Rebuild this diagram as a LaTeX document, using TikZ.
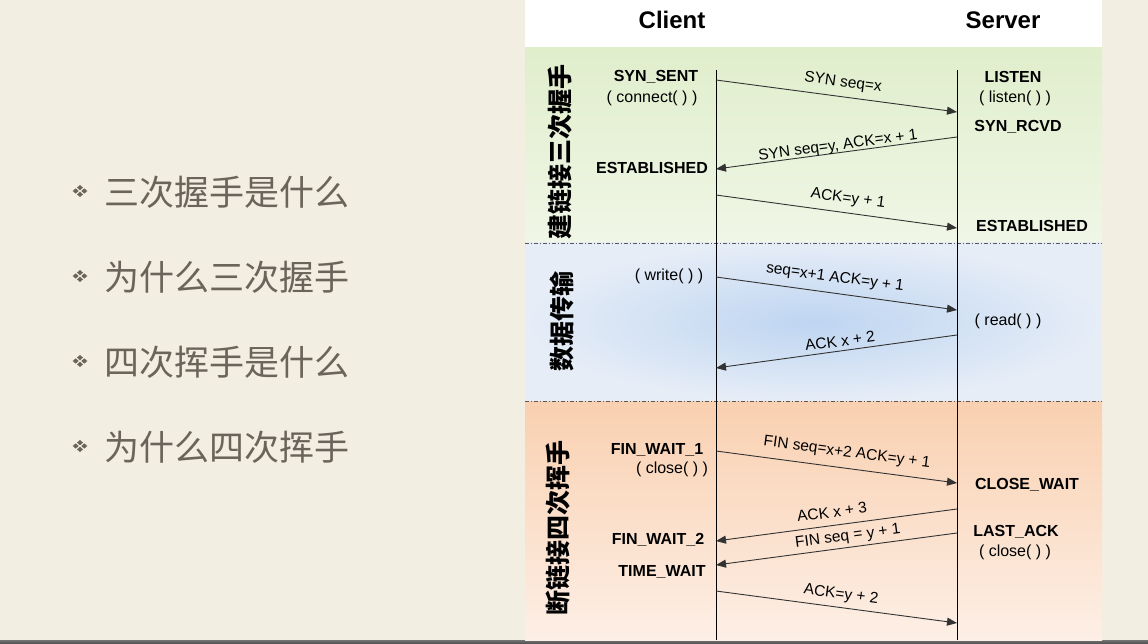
\documentclass[tikz,border=0pt]{standalone}
\usepackage{fontspec}
\setsansfont{Liberation Sans}
\newfontfamily\cjk{Noto Sans CJK SC}
\usetikzlibrary{arrows.meta,shadings}
\definecolor{paper}{HTML}{F3EEE2}
\definecolor{listgray}{HTML}{6A645B}
\definecolor{gtop}{HTML}{E0EECC}
\definecolor{gbot}{HTML}{F0F6E6}
\definecolor{bin}{HTML}{BED5F1}
\definecolor{bout}{HTML}{E6EDF7}
\definecolor{otop}{HTML}{F9D0B0}
\definecolor{obot}{HTML}{FDEFE6}
\tikzset{
  msg/.style={draw=black!80, line width=0.9pt, -{Triangle[length=10pt,width=8pt]}},
  life/.style={draw=black, line width=0.8pt},
  st/.style={font=\sffamily\bfseries\fontsize{16}{18}\selectfont, inner sep=1pt},
  call/.style={font=\sffamily\fontsize{16}{18}\selectfont, inner sep=1pt},
  lbl/.style={font=\sffamily\fontsize{15.5}{17}\selectfont, inner sep=0pt},
  dn/.style={rotate=-7.6},
  up/.style={rotate=7.6},
  phase/.style={font=\cjk\bfseries\fontsize{25}{27}\selectfont, rotate=90, inner sep=0pt},
  item/.style={font=\cjk\fontsize{35}{38}\selectfont, text=listgray, anchor=west, inner sep=0pt},
  hdr/.style={font=\sffamily\bfseries\fontsize{24}{27}\selectfont},
  sep/.style={draw=black!65, line width=0.8pt, dash pattern=on 4pt off 2pt on 1pt off 2pt}
}
\newcommand{\bulletmark}[2]{%
  \foreach \dx/\dy in {-4.3/0,4.3/0,0/-3.4,0/3.4}{
    \fill[listgray] (#1+\dx,#2+\dy-2.6) -- (#1+\dx+3,#2+\dy) -- (#1+\dx,#2+\dy+2.6) -- (#1+\dx-3,#2+\dy) -- cycle;}}
\begin{document}
\begin{tikzpicture}[x=1pt,y=-1pt]
\useasboundingbox (0,0) rectangle (1148,644);
% background
\fill[paper] (0,0) rectangle (1148,644);
\shade[top color=black!55, bottom color=black!70] (0,640) rectangle (1148,644);
% panel
\fill[white] (525,0) rectangle (1102,48);
\shade[top color=gtop, bottom color=gbot] (525,48) rectangle (1102,243);
\shade[inner color=bin, outer color=bout] (525,243) rectangle (1102,401);
\shade[top color=otop, bottom color=obot] (525,401) rectangle (1102,640);
\draw[sep] (525,243) -- (1102,243);
\draw[sep] (525,401) -- (1102,401);
% headers
\node[hdr] (hc) at (672,20) {Client};
\node[hdr] (hs) at (1003,20) {Server};
% phase labels
\node[phase] (p1) at (560,152) {建链接三次握手};
\node[phase] (p2) at (562,321) {数据传输};
\node[phase] (p3) at (558,528) {断链接四次挥手};
% lifelines
\coordinate (ct) at (716,70); \coordinate (cb) at (716,640);
\coordinate (stp) at (957,70); \coordinate (sb) at (957,640);
\draw[life] (ct) -- (cb);
\draw[life] (stp) -- (sb);
% states
\node[st] (synsent) at (656,77) {SYN\_SENT};
\node[call] (connect) at (652,98) {( connect( ) )};
\node[st] (listen) at (1013,77) {LISTEN};
\node[call] (listenc) at (1015,98) {( listen( ) )};
\node[st] (synrcvd) at (1018,127) {SYN\_RCVD};
\node[st] (estc) at (652,168) {ESTABLISHED};
\node[st] (ests) at (1032,226) {ESTABLISHED};
\node[call] (write) at (669,276) {( write( ) )};
\node[call] (read) at (1008,321) {( read( ) )};
\node[st] (fw1) at (657,450) {FIN\_WAIT\_1};
\node[call] (close1) at (672,469) {( close( ) )};
\node[st] (cw) at (1027,485) {CLOSE\_WAIT};
\node[st] (la) at (1016,532) {LAST\_ACK};
\node[call] (close2) at (1015,552) {( close( ) )};
\node[st] (fw2) at (658,540) {FIN\_WAIT\_2};
\node[st] (tw) at (662,572) {TIME\_WAIT};
% message endpoints
\coordinate (a1) at (716,80);  \coordinate (b1) at (957,112);
\coordinate (a2) at (957,137); \coordinate (b2) at (716,169);
\coordinate (a3) at (716,195); \coordinate (b3) at (957,228);
\coordinate (a4) at (716,277); \coordinate (b4) at (957,310);
\coordinate (a5) at (957,335); \coordinate (b5) at (716,368);
\coordinate (a6) at (716,451); \coordinate (b6) at (957,483);
\coordinate (a7) at (957,509); \coordinate (b7) at (716,541);
\coordinate (a8) at (957,533); \coordinate (b8) at (716,565);
\coordinate (a9) at (716,591); \coordinate (b9) at (957,623);
\draw[msg] (a1) -- (b1);
\draw[msg] (a2) -- (b2);
\draw[msg] (a3) -- (b3);
\draw[msg] (a4) -- (b4);
\draw[msg] (a5) -- (b5);
\draw[msg] (a6) -- (b6);
\draw[msg] (a7) -- (b7);
\draw[msg] (a8) -- (b8);
\draw[msg] (a9) -- (b9);
% message labels
\node[lbl, dn] (l1) at (843,83) {SYN seq=x};
\node[lbl, up] (l2) at (838,146) {SYN seq=y, ACK=x + 1};
\node[lbl, dn] (l3) at (848,199) {ACK=y + 1};
\node[lbl, dn] (l4) at (835,278) {seq=x+1 ACK=y + 1};
\node[lbl, up] (l5) at (840,341) {ACK x + 2};
\node[lbl, dn] (l6) at (847,453) {FIN seq=x+2 ACK=y + 1};
\node[lbl, up] (l7) at (832,512) {ACK x + 3};
\node[lbl, up] (l8) at (848,537) {FIN seq = y + 1};
\node[lbl, dn] (l9) at (841,595) {ACK=y + 2};
% list
\bulletmark{80}{191}
\bulletmark{80}{276}
\bulletmark{80}{361}
\bulletmark{80}{446}
\node[item] (i1) at (104,192) {三次握手是什么};
\node[item] (i2) at (104,277) {为什么三次握手};
\node[item] (i3) at (104,362) {四次挥手是什么};
\node[item] (i4) at (104,447) {为什么四次挥手};
\end{tikzpicture}
\end{document}
